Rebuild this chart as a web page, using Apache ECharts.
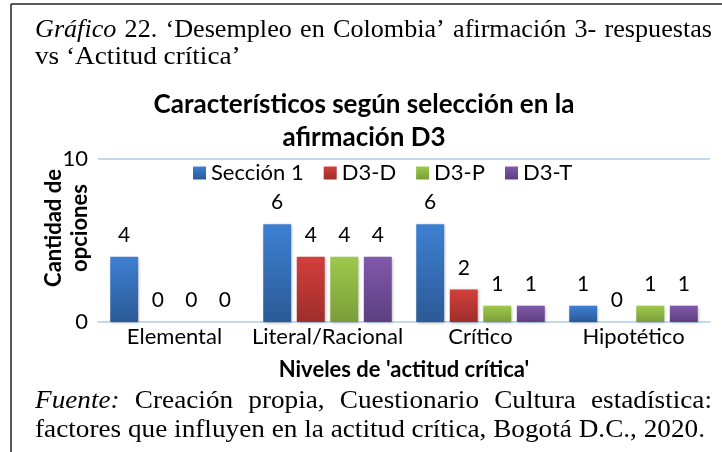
<!DOCTYPE html>
<html>
<head>
    <meta charset="utf-8">
    <title>ECharts</title>
    <script src="https://cdn.jsdelivr.net/npm/echarts@6/dist/echarts.min.js"></script>
    <style>
        *{margin:0;padding:0;}
        html,body{width:100%;height:100%;overflow:hidden;background:#fff;}
        #main{width:722px;height:452px;}
    </style>
</head>
<body>
<div id="main"></div>
<script>
    // datos del gráfico
    let categories = ['Elemental', 'Literal/Racional', 'Crítico', 'Hipotético'];
    let seriesNames = ['Sección 1', 'D3-D', 'D3-P', 'D3-T'];
    let seccion1 = [4, 6, 6, 1];
    let d3D = [0, 4, 2, 0];
    let d3P = [0, 4, 1, 1];
    let d3T = [0, 4, 1, 1];
    let yTicks = [0, 10];

    let captionLine1 = [['Gráfico', true], ['22.', false], ['‘Desempleo', false], ['en', false], ['Colombia’', false], ['afirmación', false], ['3-', false], ['respuestas', false]];
    let captionLine2 = 'vs ‘Actitud crítica’';
    let footLine1 = [['Fuente:', true], ['Creación', false], ['propia,', false], ['Cuestionario', false], ['Cultura', false], ['estadística:', false]];
    let footLine2 = 'factores que influyen en la actitud crítica, Bogotá D.C., 2020.';

    let colors = [
        ['#3d80d2', '#2b5a96'],
        ['#d33f3c', '#9e2e2b'],
        ['#9dc94b', '#7a9e39'],
        ['#8159ab', '#5d3f80']
    ];
    let sans = 'Lato, "Open Sans", sans-serif';
    let serif = '"Liberation Serif", "DejaVu Serif", serif';
    let serifSize = 25;

    let ctx = document.createElement('canvas').getContext('2d');
    function measure(txt, italic, size) {
        ctx.font = (italic ? 'italic ' : '') + size + 'px ' + serif;
        return ctx.measureText(txt).width;
    }
    // estiramiento horizontal para igualar el ancho del original
    let stretch = 670 / measure(footLine2, false, serifSize);

    // linea justificada de palabras
    function justified(words, x0, x1, y, size, sx) {
        let widths = words.map(w => measure(w[0], w[1], size) * sx);
        let total = widths.reduce((a, b) => a + b, 0);
        let gap = (x1 - x0 - total) / (words.length - 1);
        let x = x0;
        return words.map((w, i) => {
            let el = {
                type: 'text', x: x, y: y, scaleX: sx,
                style: {text: w[0], font: (w[1] ? 'italic ' : '') + size + 'px ' + serif, fill: '#000', textVerticalAlign: 'middle'}
            };
            x += widths[i] + gap;
            return el;
        });
    }

    let myCharts = echarts.init(document.getElementById('main'));
    let data = [seccion1, d3D, d3P, d3T];
    let series = seriesNames.map((name, i) => ({
        name: name,
        type: 'bar',
        data: data[i],
        barGap: '20%',
        barCategoryGap: '16%',
        itemStyle: {
            color: new echarts.graphic.LinearGradient(0, 0, 0, 1, [
                {offset: 0, color: colors[i][0]},
                {offset: 1, color: colors[i][1]}
            ]),
            shadowColor: 'rgba(0,0,0,0.3)',
            shadowBlur: 3,
            shadowOffsetX: 1,
            shadowOffsetY: 1
        },
        label: {
            show: true,
            position: 'top',
            distance: 11,
            color: '#000',
            fontFamily: sans,
            fontSize: 21
        }
    }));

    let graphic = [
        {type: 'line', shape: {x1: 11, y1: 4, x2: 722, y2: 4}, style: {stroke: '#222', lineWidth: 1.5}},
        {type: 'line', shape: {x1: 11, y1: 4, x2: 11, y2: 452}, style: {stroke: '#222', lineWidth: 1.5}},
        {type: 'text', x: 67, y: 228, rotation: Math.PI / 2,
            style: {text: 'Cantidad de\nopciones', font: 'bold 22px ' + sans, fill: '#000', textAlign: 'center', textVerticalAlign: 'middle', lineHeight: 26}},
        {type: 'text', x: 35, y: 57, scaleX: stretch,
            style: {text: captionLine2, font: serifSize + 'px ' + serif, fill: '#000', textVerticalAlign: 'middle'}},
        {type: 'text', x: 35, y: 430, scaleX: stretch,
            style: {text: footLine2, font: serifSize + 'px ' + serif, fill: '#000', textVerticalAlign: 'middle'}}
    ].concat(justified(captionLine1, 35, 712, 30, serifSize, stretch * 0.96))
     .concat(justified(footLine1, 35, 712, 401, serifSize, stretch));

    let option = {
        backgroundColor: '#fff',
        animation: false,
        title: {
            text: 'Característicos según selección en la\nafirmación D3',
            left: 359,
            top: 83,
            textAlign: 'center',
            textStyle: {fontFamily: sans, fontSize: 26, fontWeight: 'bold', color: '#000', lineHeight: 33}
        },
        legend: {
            data: seriesNames,
            left: 188,
            top: 157,
            itemWidth: 13,
            itemHeight: 13,
            itemGap: 20,
            icon: 'rect',
            textStyle: {fontFamily: sans, fontSize: 22, color: '#000'}
        },
        grid: {left: 98, right: 12, top: 159, bottom: 130, containLabel: false},
        xAxis: {
            type: 'category',
            data: categories,
            name: "Niveles de 'actitud crítica'",
            nameLocation: 'middle',
            nameGap: 37,
            nameTextStyle: {fontFamily: sans, fontSize: 22, fontWeight: 'bold', color: '#000'},
            axisLine: {lineStyle: {color: '#c6d8ef', width: 2}},
            axisTick: {show: false},
            axisLabel: {fontFamily: sans, fontSize: 22, color: '#000', margin: 4, interval: 0}
        },
        yAxis: {
            type: 'value',
            min: yTicks[0],
            max: yTicks[1],
            interval: 10,
            axisLine: {show: false},
            axisTick: {show: false},
            splitLine: {lineStyle: {color: '#c6d8ef', width: 2}},
            axisLabel: {fontFamily: sans, fontSize: 22, color: '#000', margin: 10}
        },
        graphic: graphic,
        series: series
    };
    myCharts.setOption(option);
</script>
</body>
</html>
